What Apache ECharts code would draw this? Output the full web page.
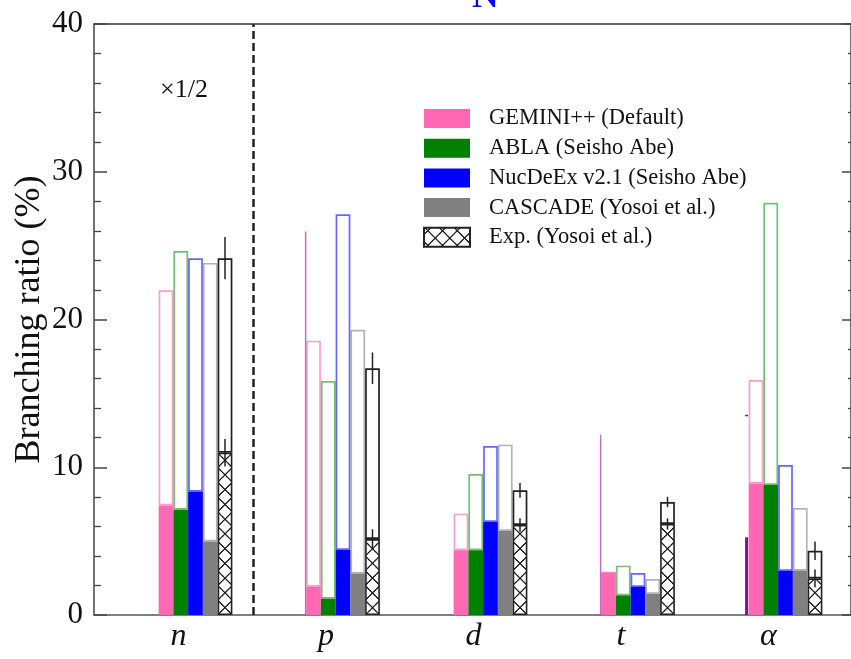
<!DOCTYPE html>
<html><head><meta charset="utf-8">
<script src="https://cdn.jsdelivr.net/npm/echarts@6/dist/echarts.min.js"></script>
<style>html,body{margin:0;padding:0;background:#fff}#c{width:851px;height:659px}</style>
</head><body><div id="c"></div>
<script>
// ---- data ----
const CATEGORIES = ['n', 'p', 'd', 't', 'α'];
const GEMINI_TOTAL  = [21.98, 18.57, 6.86, 2.87, 15.9];
const GEMINI_FILL   = [7.41, 1.92, 4.38, 2.87, 8.9];
const ABLA_TOTAL    = [24.63, 15.84, 9.54, 3.34, 27.9];
const ABLA_FILL     = [7.13, 1.1, 4.38, 1.33, 8.8];
const NUCDEEX_TOTAL = [24.15, 27.12, 11.44, 2.84, 10.15];
const NUCDEEX_FILL  = [8.35, 4.4, 6.29, 1.9, 2.98];
const CASCADE_TOTAL = [23.83, 19.31, 11.53, 2.44, 7.24];
const CASCADE_FILL  = [4.98, 2.8, 5.69, 1.42, 3.0];
const EXP_TOTAL     = [24.15, 16.7, 8.44, 7.65, 4.35];
const EXP_TOTAL_ERR = [1.43, 1.07, 0.5, 0.35, 0.63];
const EXP_FILL      = [10.98, 5.14, 6.09, 6.16, 2.48];
const EXP_FILL_ERR  = [0.93, 0.66, 0.45, 0.38, 0.6];
// faint extra marks visible at the left of some groups
const EDGE_TOP  = [null, 25.95, null, 12.2, 13.5];
const EDGE_FILL = [null, null, null, null, 5.26];
const Y_MIN = 0, Y_MAX = 40, Y_STEP = 10;
const SEPARATOR_AT = 0.39; // between n and p, in category units
const SCALE_NOTE = '×1/2';
const TITLE = 'N';
const Y_NAME = 'Branching ratio (%)';

// ---- layout constants ----
const FONT = '"Liberation Serif","DejaVu Serif",serif';
const BW = 14.75;            // bar width
const CW = BW * 10;          // category width
const G_LEFT = 94, G_TOP = 24, G_BOTTOM = 44, G_RIGHT = 0;
const BAR_LEFT = 121.75;
const W = 851;
const xMin = -0.5 - (BAR_LEFT - G_LEFT) / CW;
const xMax = -0.5 + (W - G_RIGHT - BAR_LEFT) / CW;

function hatchCanvas() {
  const s = 40, c = document.createElement('canvas');
  c.width = s; c.height = s;
  const g = c.getContext('2d');
  g.fillStyle = '#fff'; g.fillRect(0, 0, s, s);
  g.strokeStyle = '#222'; g.lineWidth = 3.6; g.lineCap = 'square';
  g.beginPath(); g.moveTo(0, 0); g.lineTo(s, s); g.moveTo(s, 0); g.lineTo(0, s); g.stroke();
  return c;
}
const HATCH = { image: hatchCanvas(), repeat: 'repeat', x: BAR_LEFT + BW / 2, y: 659 - G_BOTTOM, scaleX: BW / 40, scaleY: BW / 40 };

const MODELS = [
  { name: 'GEMINI++ (Default)', fill: GEMINI_FILL, total: GEMINI_TOTAL, color: '#ff69b4', edge: 'rgba(255,105,180,0.65)' },
  { name: 'ABLA (Seisho Abe)', fill: ABLA_FILL, total: ABLA_TOTAL, color: '#008000', edge: 'rgba(0,140,0,0.55)' },
  { name: 'NucDeEx v2.1 (Seisho Abe)', fill: NUCDEEX_FILL, total: NUCDEEX_TOTAL, color: '#0000ff', edge: 'rgba(0,0,255,0.6)' },
  { name: 'CASCADE (Yosoi et al.)', fill: CASCADE_FILL, total: CASCADE_TOTAL, color: '#808080', edge: 'rgba(128,128,128,0.6)' },
  { name: 'Exp. (Yosoi et al.)', fill: EXP_FILL, total: EXP_TOTAL, color: HATCH, edge: '#222', fillBorder: '#222' }
];

const series = [];
MODELS.forEach((m, k) => {
  series.push({
    name: m.name, type: 'bar', xAxisIndex: 2, yAxisIndex: 2, stack: 's' + k,
    barWidth: BW, barGap: '0%', data: m.fill, z: 3,
    itemStyle: { color: m.color, borderColor: m.fillBorder || m.color, borderWidth: m.fillBorder ? 1.6 : 0 }
  });
  series.push({
    name: m.name + ' total', type: 'bar', xAxisIndex: 2, yAxisIndex: 2, stack: 's' + k,
    barWidth: BW, barGap: '0%', data: m.total.map((t, i) => +(t - m.fill[i]).toFixed(3)), z: 2,
    itemStyle: { color: '#fff', borderColor: m.edge, borderWidth: 1.7 }
  });
});

// error bars on the experimental bars
const errData = [];
CATEGORIES.forEach((c, i) => {
  errData.push([i, EXP_TOTAL[i], EXP_TOTAL_ERR[i]]);
  errData.push([i, EXP_FILL[i], EXP_FILL_ERR[i]]);
});
series.push({
  type: 'custom', xAxisIndex: 2, yAxisIndex: 2, z: 10, silent: true, data: errData,
  renderItem(params, api) {
    const i = api.value(0), v = api.value(1), e = api.value(2);
    const bw = api.size([1, 0])[0] / 10;
    const a = api.coord([i, v + e]), b = api.coord([i, v - e]);
    const x = a[0] + 2 * bw;
    return { type: 'line', shape: { x1: x, y1: a[1], x2: x, y2: b[1] }, style: { stroke: '#222', lineWidth: 1.5 } };
  }
});

// faint edge marks
const edgeData = [];
CATEGORIES.forEach((c, i) => { if (EDGE_TOP[i] != null) edgeData.push([i, EDGE_TOP[i], EDGE_FILL[i] == null ? 0 : EDGE_FILL[i]]); });
series.push({
  type: 'custom', xAxisIndex: 2, yAxisIndex: 2, z: 1, silent: true, data: edgeData,
  renderItem(params, api) {
    const i = api.value(0), top = api.value(1), fill = api.value(2);
    const bw = api.size([1, 0])[0] / 10;
    const base = api.coord([i, 0]), t = api.coord([i, top]);
    const x = base[0] - 2.5 * bw - 0.5;
    const children = [];
    if (fill > 0) {
      const f = api.coord([i, fill]);
      children.push({ type: 'rect', shape: { x: x - 3, y: f[1], width: 3, height: base[1] - f[1] }, style: { fill: '#8a0a8a' } });
      children.push({ type: 'line', shape: { x1: x - 3, y1: t[1], x2: x, y2: t[1] }, style: { stroke: '#8a0a8a', lineWidth: 1.5 } });
    } else {
      children.push({ type: 'line', shape: { x1: x, y1: base[1], x2: x, y2: t[1] }, style: { stroke: 'rgba(170,60,180,0.75)', lineWidth: 1.5 } });
    }
    return { type: 'group', children };
  }
});

// separator
series.push({
  type: 'line', xAxisIndex: 0, yAxisIndex: 0, data: [], silent: true,
  markLine: {
    symbol: 'none', silent: true, animation: false, label: { show: false },
    lineStyle: { type: [8, 4], color: '#222', width: 2.5 },
    data: [{ xAxis: SEPARATOR_AT }]
  }
});

const tickStyle = { color: '#444', width: 1.5 };
const option = {
  animation: false,
  backgroundColor: '#fff',
  title: [
    { text: TITLE, left: 472, top: -21, padding: 0,
      textStyle: { fontFamily: FONT, fontSize: 37, fontWeight: 'bold', color: '#0000ff' } },
    { text: SCALE_NOTE, left: 160, top: 77, padding: 0,
      textStyle: { fontFamily: FONT, fontSize: 26, fontWeight: 'normal', color: '#111' } }
  ],
  legend: {
    data: MODELS.map(m => m.name), orient: 'vertical', left: 423, top: 107, padding: 0,
    itemWidth: 46, itemHeight: 19, itemGap: 6.7, selectedMode: false, icon: 'rect',
    textStyle: { fontFamily: FONT, fontSize: 22.5, color: '#111', padding: [0, 0, 0, 14] }
  },
  grid: [
    { left: G_LEFT, right: G_RIGHT, top: G_TOP, bottom: G_BOTTOM, outerBoundsMode: 'none', containLabel: false },
    { left: BAR_LEFT, width: CW * CATEGORIES.length, top: G_TOP, bottom: G_BOTTOM, outerBoundsMode: 'none', containLabel: false }
  ],
  xAxis: [
    { gridIndex: 0, type: 'value', min: xMin, max: xMax, position: 'bottom',
      axisLine: { show: true, onZero: false, lineStyle: { color: '#555', width: 1.5 } },
      axisTick: { show: false }, axisLabel: { show: false }, splitLine: { show: false } },
    { gridIndex: 0, type: 'value', min: xMin, max: xMax, position: 'top',
      axisLine: { show: true, onZero: false, lineStyle: { color: '#333', width: 1.5 } },
      axisTick: { show: false }, axisLabel: { show: false }, splitLine: { show: false } },
    { gridIndex: 1, type: 'category', data: CATEGORIES,
      axisLine: { show: false }, axisTick: { show: false }, splitLine: { show: false },
      axisLabel: { margin: 6, fontFamily: FONT, fontSize: 32, fontStyle: 'italic', color: '#111', padding: [0, 34, 0, 0] } }
  ],
  yAxis: [
    { gridIndex: 0, type: 'value', min: Y_MIN, max: Y_MAX, interval: Y_STEP, position: 'left',
      name: Y_NAME, nameLocation: 'middle', nameGap: 46, nameMoveOverlap: false,
      nameTextStyle: { fontFamily: FONT, fontSize: 36, color: '#111' },
      axisLine: { show: true, onZero: false, lineStyle: { color: '#444', width: 1.5 } },
      axisTick: { show: true, inside: true, length: 13, lineStyle: tickStyle },
      minorTick: { show: true, splitNumber: 5, length: 7, lineStyle: { color: '#444', width: 1.3 } },
      axisLabel: { margin: 11, fontFamily: FONT, fontSize: 31, color: '#111' },
      splitLine: { show: false } },
    { gridIndex: 0, type: 'value', min: Y_MIN, max: Y_MAX, interval: Y_STEP, position: 'right',
      axisLine: { show: true, onZero: false, lineStyle: { color: '#444', width: 1.5 } },
      axisTick: { show: true, inside: true, length: 9, lineStyle: tickStyle },
      minorTick: { show: true, splitNumber: 5, length: 3, lineStyle: { color: '#444', width: 1.3 } },
      axisLabel: { show: false }, splitLine: { show: false } },
    { gridIndex: 1, type: 'value', min: Y_MIN, max: Y_MAX, show: false }
  ],
  series
};
const chart = echarts.init(document.getElementById('c'), null, { renderer: 'canvas' });
chart.setOption(option);
</script></body></html>
